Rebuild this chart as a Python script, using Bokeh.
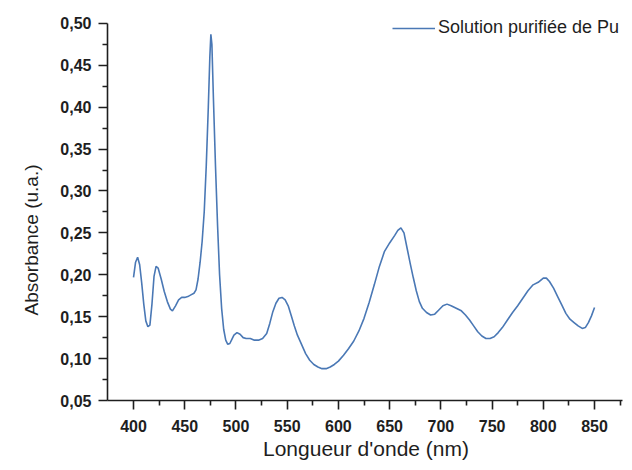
from bokeh.plotting import figure
from bokeh.models import (Range1d, FixedTicker, CustomJSTickFormatter, Title,
                          Legend, LegendItem)
from bokeh.embed import file_html
from bokeh.resources import INLINE

# ---- data ----
wavelength = [400, 402, 404, 406, 408, 410, 412, 414, 416, 418, 420, 422, 424, 427,
              430, 433, 436, 438, 441, 444, 447, 450, 453, 456, 459, 461, 463, 465,
              467, 469, 471, 473, 474.5, 475.5, 476.5, 478, 480, 482, 484, 486, 488,
              490, 492, 494, 496, 498, 501, 504, 507, 510, 514, 518, 522, 526, 530,
              533, 536, 539, 542, 545, 548, 551, 554, 557, 560, 564, 568, 572, 576,
              580, 584, 588, 592, 596, 600, 605, 610, 615, 620, 625, 630, 635, 640,
              645, 650, 655, 658, 661, 664, 667, 670, 673, 676, 679, 682, 686, 690,
              694, 698, 702, 706, 710, 715, 720, 724, 728, 732, 736, 740, 744, 748,
              752, 756, 760, 765, 770, 775, 780, 785, 790, 795, 800, 803, 806, 810,
              814, 818, 822, 826, 830, 834, 838, 841, 844, 847, 850]
absorbance = [0.197, 0.215, 0.221, 0.212, 0.190, 0.165, 0.145, 0.138, 0.140, 0.165,
              0.198, 0.210, 0.208, 0.195, 0.180, 0.168, 0.159, 0.157, 0.163, 0.170,
              0.173, 0.173, 0.174, 0.176, 0.178, 0.182, 0.195, 0.215, 0.240, 0.275,
              0.330, 0.400, 0.460, 0.487, 0.475, 0.410, 0.330, 0.260, 0.200, 0.160,
              0.135, 0.122, 0.117, 0.118, 0.123, 0.128, 0.131, 0.129, 0.125, 0.124,
              0.124, 0.122, 0.122, 0.124, 0.130, 0.142, 0.156, 0.166, 0.172, 0.173,
              0.170, 0.163, 0.151, 0.139, 0.128, 0.117, 0.106, 0.098, 0.093, 0.090,
              0.088, 0.088, 0.090, 0.093, 0.097, 0.104, 0.112, 0.121, 0.133, 0.148,
              0.167, 0.188, 0.210, 0.228, 0.238, 0.247, 0.253, 0.256, 0.250, 0.232,
              0.214, 0.197, 0.181, 0.168, 0.160, 0.155, 0.152, 0.153, 0.158, 0.163,
              0.165, 0.163, 0.160, 0.157, 0.152, 0.146, 0.139, 0.132, 0.127, 0.124,
              0.124, 0.126, 0.131, 0.137, 0.146, 0.155, 0.163, 0.172, 0.181, 0.188,
              0.191, 0.196, 0.196, 0.192, 0.184, 0.174, 0.164, 0.154, 0.147, 0.143,
              0.139, 0.136, 0.137, 0.143, 0.151, 0.161]

x_ticks = [400, 450, 500, 550, 600, 650, 700, 750, 800, 850]
x_minor_ticks = [425, 475, 525, 575, 625, 675, 725, 775, 825, 875]
y_ticks = [0.05, 0.10, 0.15, 0.20, 0.25, 0.30, 0.35, 0.40, 0.45, 0.50]
y_minor_ticks = [0.075, 0.125, 0.175, 0.225, 0.275, 0.325, 0.375, 0.425, 0.475]

series_name = "Solution purifiée de Pu"
x_title = "Longueur d'onde (nm)"
y_title = "Absorbance (u.a.)"

FONT = "Liberation Sans"
TXT = "#1e1e1e"
LINE = "#4a78b5"

p = figure(width=624, height=462, output_backend="svg", toolbar_location=None,
           x_range=Range1d(374.6, 879.25), y_range=Range1d(0.05, 0.5237),
           min_border_left=107, min_border_right=0, min_border_top=3,
           min_border_bottom=59)
p.grid.visible = False
p.outline_line_color = None
p.background_fill_color = "white"
p.border_fill_color = "white"

r = p.line(wavelength, absorbance, line_color=LINE, line_width=1.6)

for ax, ticks, minor in ((p.xaxis[0], x_ticks, x_minor_ticks),
                         (p.yaxis[0], y_ticks, y_minor_ticks)):
    ax.ticker = FixedTicker(ticks=ticks, minor_ticks=minor)
    ax.axis_line_width = 1.6
    ax.axis_line_color = TXT
    ax.major_tick_line_width = 1.6
    ax.major_tick_line_color = TXT
    ax.minor_tick_line_width = 1.6
    ax.minor_tick_line_color = TXT
    ax.major_tick_in = 0
    ax.major_tick_out = 9
    ax.minor_tick_in = 0
    ax.minor_tick_out = 5
    ax.major_label_text_font = FONT
    ax.major_label_text_font_style = "bold"
    ax.major_label_text_font_size = "16px"
    ax.major_label_text_color = TXT

p.xaxis[0].major_label_standoff = 10
p.xaxis[0].bounds = (374.6, 877.3)
p.yaxis[0].major_label_standoff = 7
p.yaxis[0].bounds = (0.05, 0.50)

p.yaxis[0].formatter = CustomJSTickFormatter(
    code="return tick.toFixed(2).replace('.', ',');")

p.xaxis[0].axis_label = x_title
p.xaxis[0].axis_label_text_font = FONT
p.xaxis[0].axis_label_text_font_style = "normal"
p.xaxis[0].axis_label_text_font_size = "21px"
p.xaxis[0].axis_label_text_color = TXT
p.xaxis[0].axis_label_standoff = 2

ytitle = Title(text=y_title, align="left", vertical_align="bottom",
               offset=85, standoff=32,
               text_font=FONT, text_font_style="normal", text_font_size="19px",
               text_color=TXT)
p.add_layout(ytitle, "left")

legend = Legend(items=[LegendItem(label=series_name, renderers=[r])],
                location=(285, 362), border_line_color=None,
                background_fill_alpha=0, padding=0, margin=0,
                glyph_width=43, glyph_height=20, label_height=20,
                label_standoff=3, label_text_font=FONT,
                label_text_font_size="18px", label_text_color=TXT)
p.add_layout(legend)

open("out.html", "w").write(file_html(p, INLINE))
